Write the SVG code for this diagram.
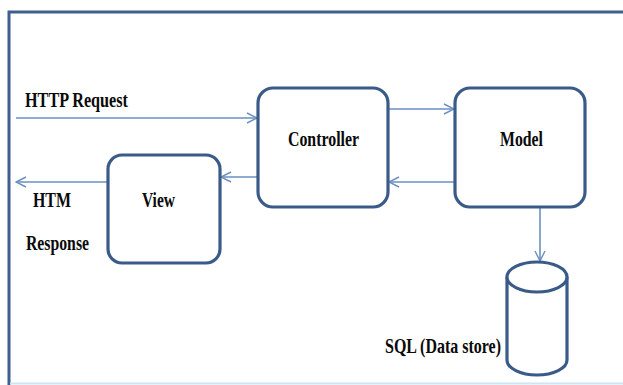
<svg xmlns="http://www.w3.org/2000/svg" width="623" height="385" viewBox="0 0 623 385">
  <style>
    .box { fill: #ffffff; stroke: #3a5a88; stroke-width: 3.2; }
    .wire { fill: none; stroke: #6b8fc0; stroke-width: 1.6; marker-end: url(#chev); }
    .lbl { font-family: "Liberation Serif", "Times New Roman", serif; font-weight: bold; font-size: 21px; fill: #0a0a0a; }
    .frame { fill: none; stroke: #3f5f8e; stroke-width: 3; }
  </style>
  <defs>
    <marker id="chev" viewBox="0 0 12 12" refX="11" refY="6" markerWidth="12" markerHeight="12" markerUnits="userSpaceOnUse" orient="auto">
      <polyline points="1,1 11,6 1,11" fill="none" stroke="#6b8fc0" stroke-width="1.4"/>
    </marker>
  </defs>

  <rect width="623" height="385" fill="#ffffff"/>
  <!-- outer frame -->
  <polyline class="frame" points="623,12 9,12 9,385"/>
  <line x1="10" y1="383.5" x2="623" y2="383.5" stroke="#cfe6f2" stroke-width="2"/>

  <g id="connectors">
    <line class="wire" x1="16" y1="118" x2="257" y2="118"/>
    <line class="wire" x1="388" y1="109" x2="454" y2="109"/>
    <line class="wire" x1="455" y1="182" x2="389" y2="182"/>
    <line class="wire" x1="258" y1="177" x2="221" y2="177"/>
    <line class="wire" x1="108" y1="182" x2="16" y2="182"/>
    <line class="wire" x1="540" y1="207" x2="540" y2="261"/>
  </g>

  <g id="controller">
    <rect class="box" x="258" y="88" width="130" height="119" rx="15"/>
    <text class="lbl" x="288" y="146" textLength="71" lengthAdjust="spacingAndGlyphs">Controller</text>
  </g>

  <g id="model">
    <rect class="box" x="455" y="88" width="130" height="119" rx="15"/>
    <text class="lbl" x="500" y="146" textLength="43" lengthAdjust="spacingAndGlyphs">Model</text>
  </g>

  <g id="view">
    <rect class="box" x="108" y="155" width="112" height="108" rx="14"/>
    <text class="lbl" x="142" y="207" textLength="33" lengthAdjust="spacingAndGlyphs">View</text>
  </g>

  <g id="datastore">
    <path class="box" d="M507,277 L507,360 A30,15 0 0 0 567,360 L567,277"/>
    <ellipse class="box" cx="537" cy="277" rx="30" ry="15"/>
    <text class="lbl" x="385" y="353" textLength="116" lengthAdjust="spacingAndGlyphs">SQL (Data store)</text>
  </g>

  <g id="labels">
    <text class="lbl" x="25" y="107" textLength="103" lengthAdjust="spacingAndGlyphs">HTTP Request</text>
    <text class="lbl" x="33" y="207" textLength="38" lengthAdjust="spacingAndGlyphs">HTM</text>
    <text class="lbl" x="26" y="250" textLength="63" lengthAdjust="spacingAndGlyphs">Response</text>
  </g>
</svg>
